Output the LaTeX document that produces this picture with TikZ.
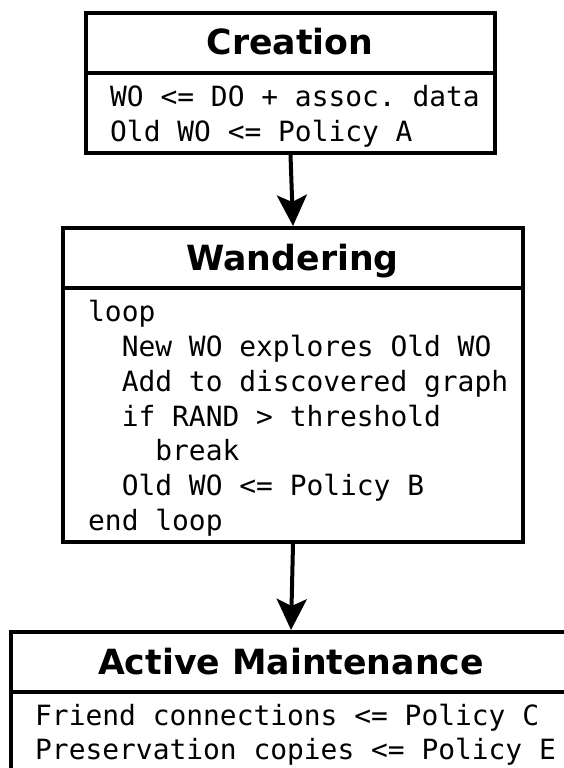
\documentclass[tikz,border=0pt]{standalone}
\usepackage{fontspec}
\setmainfont{DejaVu Sans}
\setmonofont{DejaVu Sans Mono}
\usetikzlibrary{arrows.meta}
\begin{document}
\begin{tikzpicture}[x=1pt,y=-1pt,
  box/.style={draw, line width=4pt, anchor=north west, inner sep=0pt},
  divider/.style={line width=4pt},
  ttl/.style={font=\fontsize{34.7}{40}\selectfont\bfseries, anchor=base, inner sep=0pt},
  code/.style={font=\fontsize{27.9}{34.8}\selectfont\ttfamily, anchor=base west, inner sep=0pt},
  arr/.style={-{Stealth[length=31pt,width=30pt,inset=7pt]}, line width=4pt}]
\useasboundingbox (0,0) rectangle (564,768);
\clip (0,0) rectangle (564,768);

% Creation
\node[box, minimum width=409pt, minimum height=140pt] (cre) at (84,11) {};
\draw[divider] ([yshift=-62pt]cre.north west) -- ([yshift=-62pt]cre.north east);
\node[ttl] (creT) at (290,55) {Creation};
\node[code] (c1) at (110,106) {WO <= DO + assoc. data};
\node[code] (c2) at (110,141) {Old WO <= Policy A};

% Wandering
\node[box, minimum width=460pt, minimum height=314pt] (wan) at (61,226) {};
\draw[divider] ([yshift=-62pt]wan.north west) -- ([yshift=-62pt]wan.north east);
\node[ttl] (wanT) at (292.5,270) {Wandering};
\node[code] (w1) at (88,321) {loop};
\node[code] (w2) at (88,356) {\ \ New WO explores Old WO};
\node[code] (w3) at (88,391) {\ \ Add to discovered graph};
\node[code] (w4) at (88,426) {\ \ if RAND > threshold};
\node[code] (w5) at (88,460) {\ \ \ \ break};
\node[code] (w6) at (88,495) {\ \ Old WO <= Policy B};
\node[code] (w7) at (88,530) {end loop};

% Active Maintenance
\node[box, minimum width=560pt, minimum height=200pt] (act) at (9,630) {};
\draw[divider] ([yshift=-62pt]act.north west) -- ([yshift=-62pt]act.north east);
\node[ttl] (actT) at (291,674) {Active Maintenance};
\node[code] (a1) at (35,725) {Friend connections <= Policy C};
\node[code] (a2) at (35,759) {Preservation copies <= Policy E};

% arrows
\draw[arr] (cre.south) -- (wan.north);
\draw[arr] (wan.south) -- (act.north);
\end{tikzpicture}
\end{document}
